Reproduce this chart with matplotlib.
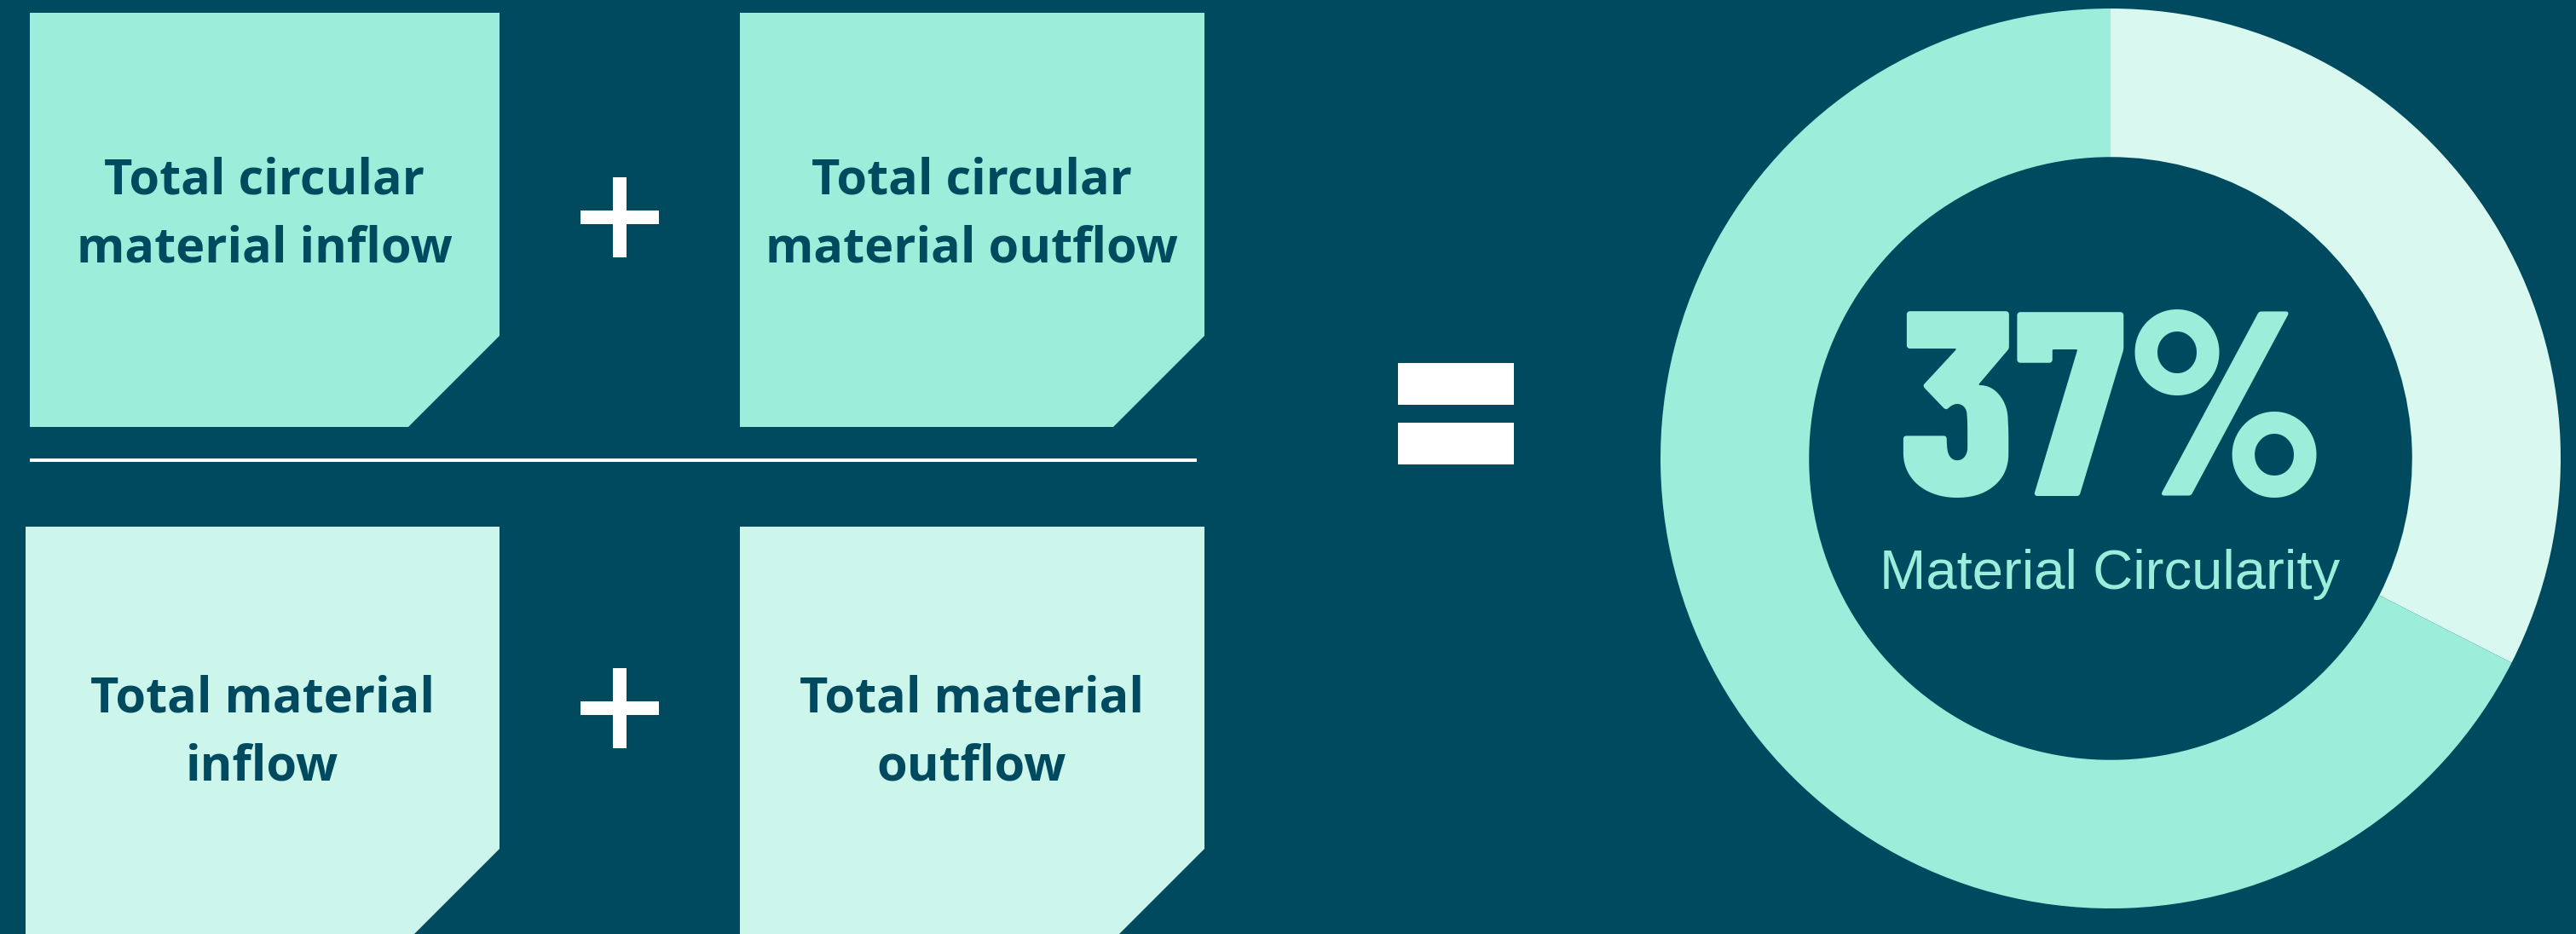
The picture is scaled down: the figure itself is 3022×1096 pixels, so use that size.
import matplotlib
matplotlib.use("Agg")
import matplotlib.pyplot as plt
from matplotlib.patches import Polygon, Rectangle

# ==============================
# DATA
# ==============================
top_labels = [["Total circular", "material inflow"], ["Total circular", "material outflow"]]
bottom_labels = [["Total material", "inflow"], ["Total material", "outflow"]]
ring_shares = [32.5, 67.5]        # pale arc vs rest, as drawn
headline = "37%"
headline_caption = "Material Circularity"

# ==============================
# STYLE
# ==============================
bg = "#004A60"
mint = "#9CEEDB"
pale = "#D8F8F0"
pale_box = "#CCF6EC"
white = "#FFFFFF"

W, H = 3022, 1096
fig = plt.figure(figsize=(W / 100, H / 100), dpi=100, facecolor=bg)
ax = fig.add_axes([0, 0, 1, 1])
ax.set_xlim(0, W)
ax.set_ylim(H, 0)
ax.axis("off")
ax.set_facecolor(bg)


def card(x0, x1, y0, y1, cut_y, cut_x, color):
    pts = [(x0, y0), (x1, y0), (x1, cut_y), (cut_x, y1), (x0, y1)]
    ax.add_patch(Polygon(pts, closed=True, facecolor=color, edgecolor="none"))


def plus(cx, cy):
    ax.add_patch(Rectangle((cx - 46, cy - 8), 92, 16, facecolor=white, edgecolor="none"))
    ax.add_patch(Rectangle((cx - 8, cy - 47), 16, 94, facecolor=white, edgecolor="none"))


# top row (numerator)
card(35, 586, 15, 501, 394, 479, mint)
card(868, 1413, 15, 501, 394, 1306, mint)
# bottom row (denominator)
card(30, 586, 618, H, 996, 486, pale_box)
card(868, 1413, 618, H, 996, 1313, pale_box)

txt_kw = dict(ha="center", va="baseline", color=bg, fontsize=41.5,
              fontweight="bold", family=["Open Sans", "DejaVu Sans"])
for cx, lines in zip([310, 1140], top_labels):
    for by, s in zip([228, 308], lines):
        ax.text(cx, by, s, **txt_kw)
for cx, lines in zip([308, 1140], bottom_labels):
    for by, s in zip([836, 916], lines):
        ax.text(cx, by, s, **txt_kw)

plus(727, 255)
plus(727, 831)

# fraction bar
ax.plot([35, 1404], [540, 540], color=white, lw=2.9, solid_capstyle="butt")

# equals sign
ax.add_patch(Rectangle((1640, 426), 136, 49, facecolor=white, edgecolor="none"))
ax.add_patch(Rectangle((1640, 496), 136, 49, facecolor=white, edgecolor="none"))

# ==============================
# DONUT
# ==============================
cx, cy, r = 2476, 538, 528
dax = fig.add_axes([(cx - r) / W, (H - cy - r) / H, 2 * r / W, 2 * r / H])
dax.pie(ring_shares, colors=[pale, mint], startangle=90, counterclock=False,
        radius=1.0, wedgeprops=dict(width=0.33, edgecolor="none", linewidth=0))
dax.set_xlim(-1, 1)
dax.set_ylim(-1, 1)
dax.set_aspect("equal")
dax.axis("off")

ax.text(2477, 582, headline, ha="center", va="baseline", color=mint, fontsize=222,
        fontweight=800, family=["Barlow Condensed", "DejaVu Sans"])
ax.text(2475, 691, headline_caption, ha="center", va="baseline", color=mint, fontsize=47,
        family=["Liberation Sans", "DejaVu Sans"])

plt.savefig("out.png", dpi=100, facecolor=bg)
